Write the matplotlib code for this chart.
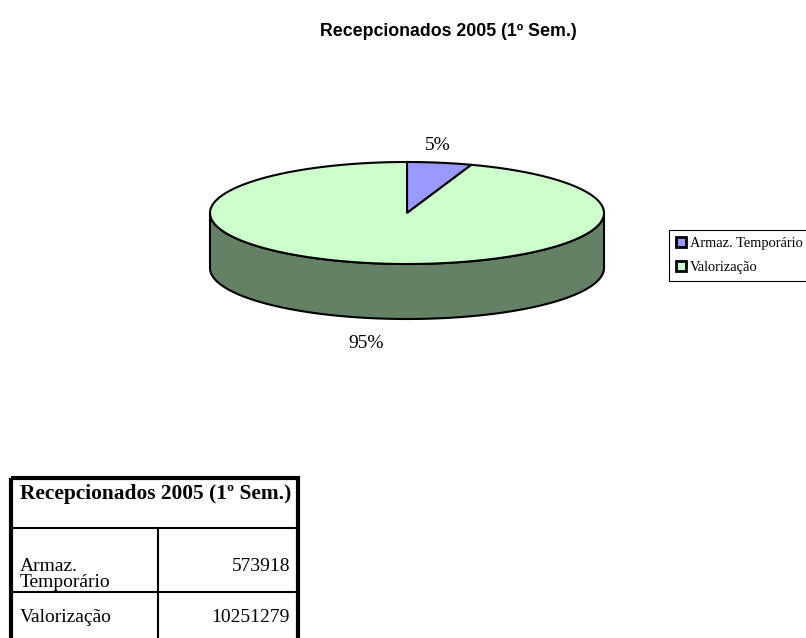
import textwrap
import numpy as np
import matplotlib.pyplot as plt

# data
title = "Recepcionados 2005 (1º Sem.)"
labels = ["Armaz. Temporário", "Valorização"]
values = [573918, 10251279]
top_colors = ["#9999FF", "#CCFFCC"]
side_colors = ["#6B6BB3", "#658165"]

fig = plt.figure(figsize=(8.06, 6.38), dpi=100)
ax = fig.add_axes([0, 0, 1, 1])
ax.set_xlim(0, 806)
ax.set_ylim(638, 0)
ax.axis("off")

fig.text(448 / 806, 1 - 31 / 638, title, ha="center", va="center",
         fontsize=12.8, fontweight="bold", family="Liberation Sans")

# 3d pie geometry (pixel coords)
cx, cy = 407, 213
rx, ry = 197, 51
depth = 55


def ell(t, dy=0.0):
    t = np.radians(t)
    return cx + rx * np.cos(t), cy - ry * np.sin(t) + dy


fracs = np.array(values) / sum(values)
starts = 90 - 360 * np.concatenate([[0], np.cumsum(fracs)[:-1]])
ends = starts - 360 * fracs

# side walls (only the front half is visible)
for s, e, col in zip(starts, ends, side_colors):
    for lo, hi in [(-180, 0), (180, 360), (-540, -360)]:
        a, b = max(e, lo), min(s, hi)
        if a >= b:
            continue
        t = np.linspace(b, a, 200)
        x1, y1 = ell(t)
        x2, y2 = ell(t[::-1], depth)
        ax.fill(np.r_[x1, x2], np.r_[y1, y2], facecolor=col,
                edgecolor="black", linewidth=1.5, zorder=1)

# top face
handles = []
for s, e, col, lab in zip(starts, ends, top_colors, labels):
    t = np.linspace(s, e, 300)
    x, y = ell(t)
    p = ax.fill(np.r_[cx, x], np.r_[cy, y], facecolor=col,
                edgecolor="black", linewidth=1.5, zorder=2, label=lab)[0]
    handles.append(p)

# percent labels
for s, e, f in zip(starts, ends, fracs):
    m = np.radians((s + e) / 2)
    lx = cx + 215 * np.cos(m) - 5
    ly = cy - 72 * np.sin(m) + 4 + (depth if np.sin(m) < 0 else 0)
    ax.text(lx, ly, f"{100 * f:.0f}%", ha="center", va="center",
            fontsize=14, family="Liberation Serif")

leg = ax.legend(handles, labels, loc="upper left",
                bbox_to_anchor=(669 / 806, 1 - 230 / 638),
                bbox_transform=fig.transFigure, fancybox=False,
                edgecolor="black", framealpha=1, handlelength=0.65,
                handleheight=0.65, handletextpad=0.3, borderpad=0.5,
                labelspacing=0.75, borderaxespad=0,
                prop={"family": "Liberation Serif", "size": 10.4})
leg.get_frame().set_linewidth(0.8)
for h in leg.legend_handles:
    h.set_linewidth(2)

# table below the chart
x0, xm, x1 = 11, 158, 298
ys = [478, 528, 592, 656]
for y in ys[1:3]:
    ax.plot([x0, x1], [y, y], color="black", lw=1.5, zorder=3)
ax.plot([xm, xm], [ys[1], ys[3]], color="black", lw=1.5, zorder=3)
ax.add_patch(plt.Rectangle((x0, ys[0]), x1 - x0, ys[3] - ys[0], fill=False,
                           edgecolor="black", lw=3, zorder=4))

ax.text(20, 494, title, ha="left", va="center", fontsize=15.4,
        fontweight="bold", family="Liberation Serif")
for i, (lab, v) in enumerate(zip(labels, values)):
    ytop = ys[i + 1] + 30 if i == 0 else ys[i + 1] + 17
    ax.text(20, ytop, textwrap.fill(lab, 10, break_long_words=False),
            ha="left", va="top", fontsize=14, family="Liberation Serif",
            linespacing=0.95)
    ax.text(290, ytop, str(v), ha="right", va="top", fontsize=14,
            family="Liberation Serif")

fig.savefig("out.png", dpi=100)
